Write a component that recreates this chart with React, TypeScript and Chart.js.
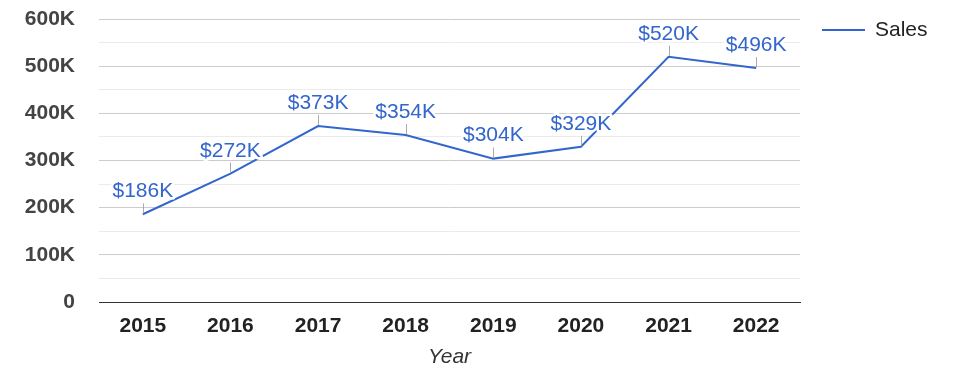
import React, { useEffect, useRef } from "react";
import { Chart, registerables } from "chart.js";

Chart.register(...registerables);

const years = ["2015", "2016", "2017", "2018", "2019", "2020", "2021", "2022"];
const sales = [186000, 272000, 373000, 354000, 304000, 329000, 520000, 496000];
const salesLabels = ["$186K", "$272K", "$373K", "$354K", "$304K", "$329K", "$520K", "$496K"];
const seriesName = "Sales";
const axisTitle = "Year";

const FONT = "'Liberation Sans', Arial, sans-serif";
const BLUE = "#3366cc";

const labelPlugin = {
  id: "valueLabels",
  afterDatasetsDraw(chart: any) {
    const ctx = chart.ctx;
    const meta = chart.getDatasetMeta(0);
    ctx.save();
    meta.data.forEach((pt: any, i: number) => {
      const x = Math.round(pt.x) + 0.5;
      const y = pt.y;
      ctx.strokeStyle = "#aaaaaa";
      ctx.lineWidth = 1;
      ctx.beginPath();
      ctx.moveTo(x, y - 1);
      ctx.lineTo(x, y - 11);
      ctx.stroke();
      ctx.font = `21px ${FONT}`;
      ctx.textAlign = "center";
      ctx.textBaseline = "middle";
      ctx.lineJoin = "round";
      ctx.strokeStyle = "#ffffff";
      ctx.lineWidth = 5;
      ctx.strokeText(salesLabels[i], pt.x, y - 23);
      ctx.fillStyle = BLUE;
      ctx.fillText(salesLabels[i], pt.x, y - 23);
    });
    ctx.restore();
  },
};

const legendPlugin = {
  id: "customLegend",
  afterDraw(chart: any) {
    const ctx = chart.ctx;
    ctx.save();
    ctx.strokeStyle = BLUE;
    ctx.lineWidth = 2;
    ctx.beginPath();
    ctx.moveTo(822, 30);
    ctx.lineTo(865, 30);
    ctx.stroke();
    ctx.font = `21px ${FONT}`;
    ctx.fillStyle = "#222222";
    ctx.textAlign = "left";
    ctx.textBaseline = "middle";
    ctx.fillText(seriesName, 875, 30);
    ctx.restore();
  },
};

export default function App() {
  const ref = useRef<HTMLCanvasElement>(null);
  useEffect(() => {
    if (!ref.current) return;
    const chart = new Chart(ref.current, {
      type: "line",
      data: {
        labels: years,
        datasets: [
          {
            label: seriesName,
            data: sales,
            borderColor: BLUE,
            backgroundColor: BLUE,
            borderWidth: 2,
            pointRadius: 0,
            tension: 0,
          },
        ],
      },
      options: {
        animation: false,
        responsive: false,
        layout: { padding: { top: 19, right: 175, bottom: 0, left: 0 } },
        plugins: { legend: { display: false }, tooltip: { enabled: false } },
        scales: {
          x: {
            offset: true,
            grid: { display: false, drawTicks: false },
            border: { display: true, color: "#333333", width: 1 },
            ticks: {
              color: "#222222",
              font: { family: FONT, size: 21, weight: "bold" },
              padding: 12,
              maxRotation: 0,
            },
            title: {
              display: true,
              text: axisTitle,
              color: "#333333",
              font: { family: FONT, size: 21, style: "italic" },
              padding: { top: 0, bottom: 8 },
            },
            afterFit(scale: any) {
              scale.height = 76;
            },
          },
          y: {
            min: 0,
            max: 600000,
            border: { display: false },
            grid: {
              drawTicks: false,
              color: (c: any) =>
                c.tick && c.tick.value === 0
                  ? "rgba(0,0,0,0)"
                  : c.tick && c.tick.value % 100000 === 0
                  ? "#cccccc"
                  : "#ebebeb",
            },
            ticks: {
              stepSize: 50000,
              autoSkip: false,
              color: "#444444",
              font: { family: FONT, size: 21, weight: "bold" },
              padding: 24,
              callback: (v: any) =>
                v % 100000 === 0 ? (v === 0 ? "0" : v / 1000 + "K") : "",
            },
            afterFit(scale: any) {
              scale.width = 99;
              scale.paddingTop = 0;
              scale.paddingBottom = 0;
            },
          },
        },
      },
      plugins: [labelPlugin, legendPlugin],
    } as any);
    return () => chart.destroy();
  }, []);
  return (
    <div style={{ position: "fixed", left: 0, top: 0, width: 975, height: 378, background: "#fff" }}>
      <canvas ref={ref} width={975} height={378} style={{ display: "block" }} />
    </div>
  );
}
